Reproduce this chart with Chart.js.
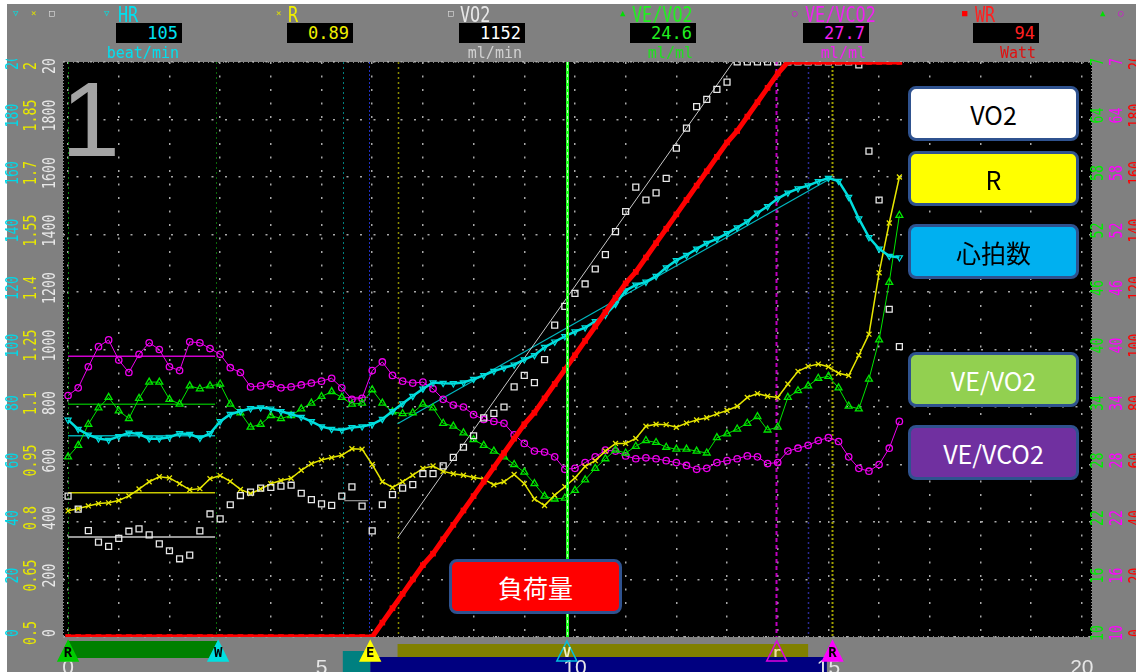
<!DOCTYPE html>
<html>
<head>
<meta charset="utf-8">
<script src="https://cdn.jsdelivr.net/npm/chart.js@4.4.1/dist/chart.umd.min.js"></script>
<style>
  html, body { margin: 0; padding: 0; background: #fff; }
  #page { position: relative; width: 1136px; height: 672px; overflow: hidden; }
  #frame { position: absolute; left: 7px; top: 4px; right: 0; bottom: 0; background: #808080; }
  #chart { position: absolute; left: 0; top: 0; }
  .hd { position: absolute; font-family: "DejaVu Sans Mono", monospace; white-space: nowrap; }
  .name { top: 4px; font-size: 21px; line-height: 22px; transform: scaleX(0.8); transform-origin: left top; }
  .sym { top: 8px; font-size: 9px; line-height: 10px; }
  .val { top: 23px; width: 66px; height: 20px; background: #000; font-size: 17px; line-height: 21px;
         text-align: right; padding-right: 4px; box-sizing: border-box; }
  .unit { top: 45px; width: 90px; text-align: right; padding-right: 3px; box-sizing: border-box;
          font-size: 15px; line-height: 16px; }
  .lg { position: absolute; left: 908px; width: 171px; height: 55px; border: 3px solid #2f528f;
        border-radius: 8px; box-sizing: border-box; display: flex; align-items: center;
        justify-content: center; font-family: "Noto Sans CJK JP", sans-serif; font-size: 25px; }
  #big1 { position: absolute; left: 61px; top: 66px; font-family: "Liberation Sans", sans-serif;
          font-size: 106px; line-height: 106px; color: #a4a4a4; }
</style>
</head>
<body>
<div id="page">
  <div id="frame"></div>
  <canvas id="chart" width="1136" height="672"></canvas>

  <!-- header readouts -->
  <div class="hd sym" style="left:13px;color:#00e0e0">&#9661;</div>
  <div class="hd sym" style="left:31px;color:#e0e000">&#215;</div>
  <div class="hd sym" style="left:49px;color:#e8e8e8">&#9633;</div>

  <div class="hd sym" style="left:104px;color:#00e0e0">&#9661;</div>
  <div class="hd name" style="left:118px;color:#00e0f0">HR</div>
  <div class="hd val" style="left:116px;color:#00e0f0">105</div>
  <div class="hd unit" style="left:92px;color:#00e0f0">beat/min</div>

  <div class="hd sym" style="left:276px;color:#e0e000">&#215;</div>
  <div class="hd name" style="left:288px;color:#f0f000">R</div>
  <div class="hd val" style="left:287px;color:#f0f000">0.89</div>

  <div class="hd sym" style="left:448px;color:#e8e8e8">&#9633;</div>
  <div class="hd name" style="left:460px;color:#e8e8e8">VO2</div>
  <div class="hd val" style="left:459px;color:#ffffff">1152</div>
  <div class="hd unit" style="left:435px;color:#d0d0d0">ml/min</div>

  <div class="hd sym" style="left:620px;color:#00e000">&#9650;</div>
  <div class="hd name" style="left:632px;color:#20f020">VE/VO2</div>
  <div class="hd val" style="left:630px;color:#20f020">24.6</div>
  <div class="hd unit" style="left:606px;color:#20e020">ml/ml</div>

  <div class="hd sym" style="left:792px;color:#e000e0">&#9675;</div>
  <div class="hd name" style="left:805px;color:#f020f0">VE/VCO2</div>
  <div class="hd val" style="left:803px;color:#f020f0">27.7</div>
  <div class="hd unit" style="left:779px;color:#f020f0">ml/ml</div>

  <div class="hd sym" style="left:962px;color:#ff0000">&#9632;</div>
  <div class="hd name" style="left:975px;color:#ff2020">WR</div>
  <div class="hd val" style="left:973px;color:#ff2020">94</div>
  <div class="hd unit" style="left:949px;color:#e01010">Watt</div>

  <div class="hd sym" style="left:1100px;color:#00e000">&#9650;</div>
  <div class="hd sym" style="left:1118px;color:#e000e0">&#9675;</div>

  <div id="big1">1</div>

  <!-- legend boxes -->
  <div class="lg" style="top:86px;background:#ffffff;color:#000">VO2</div>
  <div class="lg" style="top:151px;background:#ffff00;color:#000">R</div>
  <div class="lg" style="top:224px;background:#00b0f0;color:#000">心拍数</div>
  <div class="lg" style="top:352px;background:#92d050;color:#fff">VE/VO2</div>
  <div class="lg" style="top:425px;background:#7030a0;color:#fff">VE/VCO2</div>
  <div class="lg" style="top:559px;left:449px;width:173px;background:#ff0000;color:#fff">負荷量</div>
</div>

<script>
// sample times (min)
const minutes = [
  0, 0.2, 0.4, 0.6, 0.8, 1, 1.2, 1.4, 1.6, 1.8,
  2, 2.2, 2.4, 2.6, 2.8, 3, 3.2, 3.4, 3.6, 3.8,
  4, 4.2, 4.4, 4.6, 4.8, 5, 5.2, 5.4, 5.6, 5.8,
  6, 6.2, 6.4, 6.6, 6.8, 7, 7.2, 7.4, 7.6, 7.8,
  8, 8.2, 8.4, 8.6, 8.8, 9, 9.2, 9.4, 9.6, 9.8,
  10, 10.2, 10.4, 10.6, 10.8, 11, 11.2, 11.4, 11.6, 11.8,
  12, 12.2, 12.4, 12.6, 12.8, 13, 13.2, 13.4, 13.6, 13.8,
  14, 14.2, 14.4, 14.6, 14.8, 15, 15.2, 15.4, 15.6, 15.8,
  16, 16.2, 16.4
];

// HR (beat/min)
const hr = [
  75.5, 72.3, 70.3, 69.0, 68.5, 69.8, 71.0, 70.6, 69.0, 69.0,
  69.5, 70.8, 70.6, 69.2, 70.8, 75.0, 77.5, 78.5, 79.5, 79.8,
  79.4, 78.5, 77.5, 76.5, 75.0, 73.2, 72.3, 72.0, 72.9, 73.2,
  74.0, 75.8, 78.5, 81.2, 83.8, 86.3, 88.5, 88.3, 88.2, 88.5,
  89.7, 91.0, 92.5, 93.6, 94.7, 96.5, 98.0, 100.8, 102.7, 104.6,
  106.2, 107.6, 109.8, 112.0, 115.8, 120.5, 122.5, 123.5, 125.5, 128.5,
  131.0, 132.8, 135.0, 137.0, 138.5, 140.4, 142.4, 144.5, 147.5, 149.8,
  152.5, 154.5, 156.0, 157.0, 158.5, 159.6, 158.6, 153.0, 145.5, 139.0,
  135.0, 132.5, 132.0
];

// R
const rq = [
  0.829, 0.835, 0.842, 0.848, 0.850, 0.856, 0.868, 0.886, 0.905, 0.918,
  0.915, 0.900, 0.884, 0.887, 0.913, 0.921, 0.906, 0.885, 0.874, 0.886,
  0.900, 0.908, 0.914, 0.935, 0.952, 0.962, 0.968, 0.974, 0.991, 0.990,
  0.950, 0.905, 0.890, 0.905, 0.922, 0.940, 0.946, 0.932, 0.926, 0.922,
  0.916, 0.912, 0.897, 0.905, 0.924, 0.900, 0.860, 0.843, 0.870, 0.892,
  0.915, 0.945, 0.960, 0.985, 1.005, 1.005, 1.018, 1.050, 1.055, 1.054,
  1.047, 1.058, 1.066, 1.072, 1.082, 1.091, 1.102, 1.125, 1.135, 1.128,
  1.125, 1.160, 1.193, 1.206, 1.212, 1.205, 1.188, 1.182, 1.235, 1.290,
  1.450, 1.580, 1.700
];

// VO2 (ml/min)
const vo2 = [
  490, 445, 370, 330, 315, 343, 368, 376, 355, 324,
  300, 272, 285, 369, 428, 411, 460, 492, 504, 518,
  520, 525, 528, 500, 478, 463, 458, 490, 522, 455,
  369, 460, 495, 518, 530, 568, 568, 595, 625, 660,
  700, 762, 778, 800, 870, 910, 885, 965, 1085, 1150,
  1195, 1228, 1280, 1330, 1410, 1480, 1565, 1520, 1545, 1595,
  1700, 1770, 1845, 1870, 1905, 1930, 2000, 2000, 2000, 2000,
  2000, 2000, 2000, 2000, 2000, 2000, 2000, 2000, 1990, 1690,
  1520, 1140, 1010
];

// VE/VO2 (ml/ml)
const veVo2 = [
  28.8, 30.0, 32.2, 33.9, 35.0, 33.6, 32.8, 34.9, 36.6, 36.6,
  34.8, 34.3, 36.2, 35.9, 36.2, 36.4, 34.3, 33.4, 31.9, 32.2,
  33.1, 32.8, 33.1, 33.8, 34.4, 35.1, 35.6, 35.0, 34.3, 34.4,
  35.8, 34.4, 33.5, 33.3, 33.4, 34.3, 33.9, 32.3, 32.0, 31.3,
  30.6, 30.0, 29.4, 28.8, 28.0, 27.2, 26.0, 24.7, 24.4, 24.5,
  25.3, 26.4, 27.6, 28.6, 29.5, 29.2, 29.9, 30.5, 30.3, 29.8,
  29.6, 29.6, 29.4, 29.2, 30.8, 31.2, 31.7, 32.3, 33.0, 31.6,
  31.9, 35.0, 35.7, 36.2, 37.0, 37.2, 36.0, 34.1, 33.8, 36.9,
  41.0, 47.0, 54.0
];

// VE/VCO2 (ml/ml)
const veVco2 = [
  35.2, 36.0, 38.2, 40.3, 41.0, 38.9, 37.6, 39.5, 40.7, 40.0,
  38.2, 37.8, 40.8, 40.7, 40.1, 39.5, 38.1, 37.6, 36.1, 36.2,
  36.4, 36.0, 36.1, 36.3, 36.5, 36.7, 37.0, 36.0, 34.8, 34.9,
  37.8, 38.7, 37.3, 36.7, 36.5, 36.6, 35.9, 34.8, 34.2, 34.0,
  33.2, 32.7, 32.5, 32.3, 31.1, 30.2, 29.4, 29.3, 28.8, 27.5,
  27.6, 28.2, 28.8, 29.5, 29.4, 28.9, 28.6, 28.7, 28.6, 28.4,
  28.2, 27.9, 27.5, 27.6, 28.2, 28.4, 28.6, 28.9, 28.8, 28.1,
  28.2, 29.4, 29.7, 30.0, 30.5, 30.8, 30.4, 28.8, 27.6, 27.3,
  28.0, 29.7, 32.5
];

// work rate (Watt)
const wr = [
  0, 0, 0, 0, 0, 0, 0, 0, 0, 0,
  0, 0, 0, 0, 0, 0, 0, 0, 0, 0,
  0, 0, 0, 0, 0, 0, 0, 0, 0, 0,
  0, 5, 10, 15, 20, 25, 29, 34, 39, 44,
  49, 54, 59, 64, 69, 74, 78, 83, 88, 93,
  98, 103, 108, 113, 118, 123, 127, 132, 137, 142,
  147, 152, 157, 162, 167, 172, 176, 181, 186, 191,
  196, 200, 200, 200, 200, 200, 200, 200, 200, 200,
  200, 200, 200
];

// fitted lines and rest averages
const vo2FitT = [6.5, 13.12];
const vo2FitV = [345, 2000];
const hrFitT = [6.5, 15.05];
const hrFitV = [74.2, 159.6];
const restT = [0, 2.9];
const restHr = 70;
const restR = 0.876;
const restVo2 = 348;
const restVeVo2 = 34.3;
const restVeVco2 = 39.3;
const preT = [5.45, 5.92];
const preVo2 = 474;
const preVeVco2 = 35.0;

// tick values and labels
const minuteTicks = [0, 1, 2, 3, 4, 5, 6, 7, 8, 9, 10, 11, 12, 13, 14, 15, 16, 17, 18, 19, 20];
const minuteLabels = ['0', '', '', '', '', '5', '', '', '', '', '10', '', '', '', '', '15', '', '', '', '', '20'];
const hrTicks = [0, 20, 40, 60, 80, 100, 120, 140, 160, 180, 200];
const hrTickLabels = ['0', '20', '40', '60', '80', '100', '120', '140', '160', '180', '200'];
const rTicks = [0.5, 0.65, 0.8, 0.95, 1.1, 1.25, 1.4, 1.55, 1.7, 1.85, 2.0];
const rTickLabels = ['0.5', '0.65', '0.8', '0.95', '1.1', '1.25', '1.4', '1.55', '1.7', '1.85', '2.0'];
const vo2Ticks = [0, 200, 400, 600, 800, 1000, 1200, 1400, 1600, 1800, 2000];
const vo2TickLabels = ['0', '200', '400', '600', '800', '1000', '1200', '1400', '1600', '1800', '2000'];
const veTicks = [10, 16, 22, 28, 34, 40, 46, 52, 58, 64, 70];
const veTickLabels = ['10', '16', '22', '28', '34', '40', '46', '52', '58', '64', '70'];
const wrTicks = [0, 20, 40, 60, 80, 100, 120, 140, 160, 180, 200];
const wrTickLabels = ['0', '20', '40', '60', '80', '100', '120', '140', '160', '180', '200'];

// phase bands and event markers (min)
const restPhase = [0, 2.96];
const prePhase = [5.42, 5.96];
const exercisePhase = [5.96, 14.97];
const rampPhase = [6.5, 14.6];
const eventTimes = [0, 2.96, 5.96, 9.84, 13.98, 15.08];
const eventLabels = ['R', 'W', 'E', 'V', 'r', 'R'];
const guideTimes = [0, 2.91, 5.42, 5.94, 6.5, 13.96, 14.6, 15.07];
const atTime = 9.84;

const series = (ys) => minutes.map((t, i) => ({ x: t, y: ys[i] }));
const pair = (ts, ys) => ts.map((t, i) => ({ x: t, y: ys[i] }));
const flat = (ts, v) => ts.map(t => ({ x: t, y: v }));
const setTicks = (vals) => (s) => { s.ticks = vals.map(v => ({ value: v })); };

const guideStyles = [
  { color: '#0a8a0a', dash: [2, 3], width: 1 },
  { color: '#0a6a0a', dash: [2, 3], width: 1 },
  { color: '#008080', dash: [2, 3], width: 1 },
  { color: '#2030c0', dash: [2, 2], width: 1 },
  { color: '#8a8a00', dash: [2, 3], width: 1.5 },
  { color: '#c000c0', dash: [4, 3], width: 2 },
  { color: '#2a2a90', dash: [2, 3], width: 1.5 },
  { color: '#a0a000', dash: [2, 2], width: 2 }
];
const eventStyles = [
  { fill: '#00cc00', stroke: '#00cc00', text: '#000' },
  { fill: '#00e0e0', stroke: '#00e0e0', text: '#000' },
  { fill: '#ffff00', stroke: '#ffff00', text: '#000' },
  { fill: null, stroke: '#00c0e0', text: '#f0f0c0' },
  { fill: null, stroke: '#e000e0', text: '#f0e0a0' },
  { fill: '#ff00ff', stroke: '#ff00ff', text: '#000' }
];
const axisLabelSpecs = [
  { id: 'yHr', labels: hrTickLabels, off: 6.5, color: '#00d8e8' },
  { id: 'yR', labels: rTickLabels, off: 6, color: '#e8e800' },
  { id: 'yVo2', labels: vo2TickLabels, off: 7, color: '#e8e8e8' },
  { id: 'yVe', labels: veTickLabels, off: 7, color: '#00ee00' },
  { id: 'yVco', labels: veTickLabels, off: 5, color: '#ff00ff' },
  { id: 'yWr', labels: wrTickLabels, off: 7, color: '#ff0000' }
];

const panelPlugin = {
  id: 'cpxPanel',
  beforeDraw(chart) {
    const { ctx, chartArea: a, scales } = chart;
    const x = scales.x;
    ctx.save();
    ctx.fillStyle = '#000';
    ctx.fillRect(a.left, a.top, a.right - a.left, a.bottom - a.top);
    const band = (span, y0, y1, color) => {
      const p0 = x.getPixelForValue(span[0]);
      const p1 = x.getPixelForValue(span[1]);
      ctx.fillStyle = color;
      ctx.fillRect(p0, y0, p1 - p0, y1 - y0);
    };
    band(exercisePhase, 657, 672, '#000080');
    band(rampPhase, 644, 657, '#808000');
    band(prePhase, 651, 672, '#008080');
    band(restPhase, 641, 658, '#008000');
    ctx.restore();
  },
  beforeDatasetsDraw(chart) {
    const { ctx, chartArea: a, scales } = chart;
    const x = scales.x;
    ctx.save();
    // ruler-like plot edges
    ctx.strokeStyle = '#8c8c8c';
    ctx.lineWidth = 1;
    ctx.setLineDash([1, 2]);
    ctx.beginPath();
    ctx.moveTo(a.left + 0.5, a.top); ctx.lineTo(a.left + 0.5, a.bottom);
    ctx.moveTo(a.right - 0.5, a.top); ctx.lineTo(a.right - 0.5, a.bottom);
    ctx.stroke();
    ctx.setLineDash([1, 4]);
    ctx.beginPath();
    ctx.moveTo(a.left, a.top + 0.5); ctx.lineTo(a.right, a.top + 0.5);
    ctx.moveTo(a.left, a.bottom - 0.5); ctx.lineTo(a.right, a.bottom - 0.5);
    ctx.stroke();
    guideTimes.forEach((t, i) => {
      const st = guideStyles[i];
      const px = Math.round(x.getPixelForValue(t)) + 0.5;
      ctx.strokeStyle = st.color;
      ctx.lineWidth = st.width;
      ctx.setLineDash(st.dash);
      ctx.beginPath();
      ctx.moveTo(px, a.top);
      ctx.lineTo(px, a.bottom);
      ctx.stroke();
    });
    ctx.restore();
  },
  afterDatasetsDraw(chart) {
    const { ctx, chartArea: a, scales } = chart;
    const px = Math.round(scales.x.getPixelForValue(atTime)) + 0.5;
    ctx.save();
    ctx.strokeStyle = '#20ff20';
    ctx.lineWidth = 3;
    ctx.beginPath();
    ctx.moveTo(px, a.top); ctx.lineTo(px, a.bottom);
    ctx.stroke();
    ctx.strokeStyle = '#c8ffc8';
    ctx.lineWidth = 1;
    ctx.setLineDash([3, 3]);
    ctx.beginPath();
    ctx.moveTo(px, a.top); ctx.lineTo(px, a.bottom);
    ctx.stroke();
    ctx.restore();
  },
  afterDraw(chart) {
    const { ctx, scales } = chart;
    ctx.save();
    // rotated axis labels
    ctx.beginPath();
    ctx.rect(0, 59, chart.width, chart.height - 59);
    ctx.clip();
    ctx.font = '17px "DejaVu Sans Mono"';
    ctx.textAlign = 'center';
    ctx.textBaseline = 'middle';
    axisLabelSpecs.forEach(spec => {
      const s = scales[spec.id];
      ctx.fillStyle = spec.color;
      s.ticks.forEach((tk, i) => {
        const y = s.getPixelForValue(tk.value) - 4;
        ctx.save();
        ctx.translate(s.left + spec.off, y);
        ctx.rotate(-Math.PI / 2);
        ctx.scale(0.78, 1);
        ctx.fillText(spec.labels[i], 0, 0);
        ctx.restore();
      });
    });
    ctx.restore();

    // event markers under the plot
    const x = scales.x;
    ctx.save();
    eventTimes.forEach((t, i) => {
      const st = eventStyles[i];
      const p = x.getPixelForValue(t);
      ctx.beginPath();
      ctx.moveTo(p, 641);
      ctx.lineTo(p - 10, 661);
      ctx.lineTo(p + 10, 661);
      ctx.closePath();
      if (st.fill) { ctx.fillStyle = st.fill; ctx.fill(); }
      ctx.strokeStyle = st.stroke;
      ctx.lineWidth = 1.5;
      ctx.stroke();
      ctx.fillStyle = st.text;
      ctx.font = 'bold 14px "DejaVu Sans Mono"';
      ctx.textAlign = 'center';
      ctx.textBaseline = 'middle';
      ctx.fillText(eventLabels[i], p, 653);
    });
    ctx.restore();
  }
};

const dotGrid = { color: '#a8a8a8', lineWidth: 1.5, drawTicks: false };
const noGrid = { display: false, drawTicks: false };

new Chart(document.getElementById('chart'), {
  type: 'scatter',
  data: {
    datasets: [
      { label: 'WR', data: series(wr), yAxisID: 'yWr', showLine: true,
        borderColor: '#ff0000', backgroundColor: '#ff0000', borderWidth: 5,
        pointStyle: 'rect', pointRadius: 4, pointBorderWidth: 0 },
      { label: 'VO2', data: series(vo2), yAxisID: 'yVo2', showLine: false,
        borderColor: '#e8e8e8', backgroundColor: 'rgba(0,0,0,0)',
        pointStyle: 'rect', pointRadius: 4.2, pointBorderWidth: 1.3 },
      { label: 'HR', data: series(hr), yAxisID: 'yHr', showLine: true,
        borderColor: '#00dede', backgroundColor: 'rgba(0,0,0,0)', borderWidth: 2.5,
        pointStyle: 'triangle', pointRotation: 180, pointRadius: 3.5, pointBorderWidth: 1.2 },
      { label: 'R', data: series(rq), yAxisID: 'yR', showLine: true,
        borderColor: '#e6e600', backgroundColor: 'rgba(0,0,0,0)', borderWidth: 1.5,
        pointStyle: 'crossRot', pointRadius: 3.5, pointBorderWidth: 1.3 },
      { label: 'VE/VO2', data: series(veVo2), yAxisID: 'yVe', showLine: true,
        borderColor: '#00e600', backgroundColor: 'rgba(0,0,0,0)', borderWidth: 1,
        pointStyle: 'triangle', pointRadius: 4, pointBorderWidth: 1.3 },
      { label: 'VE/VCO2', data: series(veVco2), yAxisID: 'yVco', showLine: true,
        borderColor: '#ee00ee', backgroundColor: 'rgba(0,0,0,0)', borderWidth: 1,
        pointStyle: 'circle', pointRadius: 3.2, pointBorderWidth: 1.3 },
      { label: 'VO2 fit', data: pair(vo2FitT, vo2FitV), yAxisID: 'yVo2', showLine: true,
        borderColor: '#c8c8c8', borderWidth: 1, pointRadius: 0 },
      { label: 'HR fit', data: pair(hrFitT, hrFitV), yAxisID: 'yHr', showLine: true,
        borderColor: '#00b8c0', borderWidth: 1.2, pointRadius: 0 },
      { label: 'rest VE/VCO2', data: flat(restT, restVeVco2), yAxisID: 'yVco', showLine: true,
        borderColor: '#d000d0', borderWidth: 1.5, pointRadius: 0 },
      { label: 'rest VE/VO2', data: flat(restT, restVeVo2), yAxisID: 'yVe', showLine: true,
        borderColor: '#00a000', borderWidth: 1.5, pointRadius: 0 },
      { label: 'rest HR', data: flat(restT, restHr), yAxisID: 'yHr', showLine: true,
        borderColor: '#00a8b0', borderWidth: 1.5, pointRadius: 0 },
      { label: 'rest R', data: flat(restT, restR), yAxisID: 'yR', showLine: true,
        borderColor: '#c8c800', borderWidth: 1.5, pointRadius: 0 },
      { label: 'rest VO2', data: flat(restT, restVo2), yAxisID: 'yVo2', showLine: true,
        borderColor: '#c8c8c8', borderWidth: 1.5, pointRadius: 0 },
      { label: 'pre VO2', data: flat(preT, preVo2), yAxisID: 'yVo2', showLine: true,
        borderColor: '#b0b0b0', borderWidth: 1, pointRadius: 0 },
      { label: 'pre VE/VCO2', data: flat(preT, preVeVco2), yAxisID: 'yVco', showLine: true,
        borderColor: '#c000c0', borderWidth: 1, pointRadius: 0 }
    ]
  },
  options: {
    responsive: false,
    animation: false,
    events: [],
    layout: { padding: { left: 7, top: 62, right: 0, bottom: 0 } },
    plugins: { legend: { display: false }, tooltip: { enabled: false } },
    scales: {
      x: {
        type: 'linear', position: 'bottom', min: -0.1, max: 20.2,
        afterBuildTicks: setTicks(minuteTicks),
        afterFit: s => { s.height = 35; },
        grid: dotGrid,
        border: { display: false, dash: [2, 11.5] },
        ticks: {
          color: '#e6e6e6', font: { family: 'Liberation Sans', size: 21 },
          padding: 19, autoSkip: false, maxRotation: 0,
          callback: (v, i) => minuteLabels[i]
        }
      },
      yVo2: {
        position: 'left', weight: 0, min: 0, max: 2000,
        afterBuildTicks: setTicks(vo2Ticks),
        afterFit: s => { s.width = 19; },
        grid: dotGrid, border: { display: false, dash: [2, 11.5] },
        ticks: { display: false }
      },
      yR: {
        position: 'left', weight: 1, min: 0.5, max: 2.0,
        afterBuildTicks: setTicks(rTicks),
        afterFit: s => { s.width = 18; },
        grid: noGrid, border: { display: false }, ticks: { display: false }
      },
      yHr: {
        position: 'left', weight: 2, min: 0, max: 200,
        afterBuildTicks: setTicks(hrTicks),
        afterFit: s => { s.width = 19; },
        grid: noGrid, border: { display: false }, ticks: { display: false }
      },
      yVe: {
        position: 'right', weight: 0, min: 10, max: 70,
        afterBuildTicks: setTicks(veTicks),
        afterFit: s => { s.width = 21; },
        grid: noGrid, border: { display: false }, ticks: { display: false }
      },
      yVco: {
        position: 'right', weight: 1, min: 10, max: 70,
        afterBuildTicks: setTicks(veTicks),
        afterFit: s => { s.width = 17; },
        grid: noGrid, border: { display: false }, ticks: { display: false }
      },
      yWr: {
        position: 'right', weight: 2, min: 0, max: 200,
        afterBuildTicks: setTicks(wrTicks),
        afterFit: s => { s.width = 6; },
        grid: noGrid, border: { display: false }, ticks: { display: false }
      }
    }
  },
  plugins: [panelPlugin]
});
</script>
</body>
</html>
